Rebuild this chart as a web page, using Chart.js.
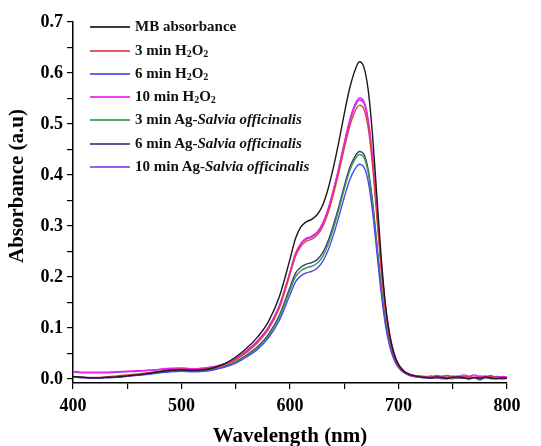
<!DOCTYPE html>
<html><head><meta charset="utf-8">
<script src="https://cdn.jsdelivr.net/npm/chart.js@4.4.1/dist/chart.umd.min.js"></script>
<style>
html,body{margin:0;padding:0;background:#fff;}
#wrap{position:relative;width:541px;height:446px;}
#legend{position:absolute;left:90px;top:0;width:260px;height:180px;font:bold 15px "Liberation Serif",serif;color:#111;}
.row{position:absolute;left:0;height:24px;white-space:nowrap;}
.sw{position:absolute;left:0;top:12px;width:40px;height:2px;opacity:0.85;}
.tx{position:absolute;left:45px;top:0;line-height:24px;}
sub{font-size:10px;vertical-align:-2px;line-height:0;}
</style></head><body>
<div id="wrap"><canvas id="c" width="541" height="446"></canvas><div id="legend"></div></div>
<script>
const wavelengths = [400,410,420,430,440,450,460,470,480,490,500,510,520,530,540,
  550,560,570,580,590,600,
  605,610,615,620,625,630,635,640,645,650,655,660,
  664,668,672,676,680,684,688,692,696,700,
  705,710,715,720,
  725,730,735,740,745,750,755,760,765,770,775,780,785,790,795,800];

const seriesLabels = ["MB absorbance","3 min H2O2","6 min H2O2","10 min H2O2",
  "3 min Ag-Salvia officinalis","6 min Ag-Salvia officinalis","10 min Ag-Salvia officinalis"];
const seriesColors = ["#1a1a1a","#e03c3c","#4a4ae8","#f020f0","#3a9a4a","#3c3c78","#9040e0"];

const mbAbs = [0.005,0.003,0.002,0.003,0.004,0.006,0.008,0.011,0.014,0.017,0.018,0.017,0.018,0.022,0.030,
  0.043,0.060,0.082,0.112,0.160,0.235,
  0.275,0.298,0.308,0.313,0.322,0.340,0.372,0.415,0.465,0.520,0.570,0.606,
  0.622,0.612,0.568,0.480,0.360,0.240,0.145,0.085,0.048,0.028,
  0.015,0.009,0.006,0.004,
  0.003,0.002,0.004,0.003,0.001,0.003,0.004,0.002,0.000,0.003,0.001,0.004,0.002,0.000,0.002,0.001];
const h2o2_3min = [0.004,0.003,0.003,0.004,0.006,0.008,0.010,0.012,0.015,0.018,0.019,0.018,0.019,0.022,0.028,
  0.038,0.052,0.071,0.097,0.138,0.205,
  0.240,0.260,0.270,0.274,0.282,0.298,0.325,0.362,0.405,0.452,0.495,0.525,
  0.537,0.530,0.494,0.420,0.318,0.215,0.132,0.078,0.045,0.026,
  0.014,0.008,0.005,0.004,
  0.003,0.005,0.002,0.004,0.006,0.003,0.002,0.005,0.003,0.001,0.004,0.002,0.005,0.003,0.000,0.002];
const h2o2_6min = [0.004,0.002,0.001,0.002,0.003,0.005,0.007,0.009,0.012,0.014,0.015,0.014,0.015,0.018,0.023,
  0.031,0.043,0.058,0.080,0.114,0.165,
  0.190,0.202,0.208,0.211,0.217,0.230,0.252,0.282,0.318,0.356,0.390,0.412,
  0.421,0.416,0.388,0.330,0.250,0.170,0.105,0.063,0.037,0.022,
  0.012,0.007,0.004,0.003,
  0.002,0.001,0.003,0.000,0.002,0.004,0.001,0.003,0.000,0.002,-0.002,0.003,0.001,0.004,0.000,0.001];
const h2o2_10min = [0.015,0.013,0.013,0.013,0.014,0.015,0.016,0.017,0.019,0.021,0.021,0.020,0.021,0.024,0.030,
  0.040,0.055,0.075,0.101,0.143,0.210,
  0.246,0.266,0.276,0.280,0.288,0.305,0.333,0.371,0.415,0.463,0.508,0.539,
  0.551,0.545,0.510,0.437,0.334,0.228,0.142,0.085,0.050,0.029,
  0.016,0.010,0.007,0.006,
  0.005,0.004,0.007,0.005,0.003,0.006,0.004,0.008,0.005,0.003,0.006,0.004,0.007,0.003,0.005,0.004];
const ag_3min = [0.005,0.003,0.002,0.003,0.004,0.006,0.008,0.010,0.013,0.015,0.016,0.015,0.016,0.019,0.024,
  0.033,0.045,0.061,0.084,0.120,0.174,
  0.200,0.212,0.218,0.221,0.227,0.240,0.263,0.295,0.332,0.372,0.408,0.431,
  0.440,0.435,0.405,0.344,0.261,0.178,0.110,0.066,0.039,0.023,
  0.013,0.007,0.005,0.003,
  0.002,0.004,0.001,0.003,0.002,0.000,0.003,0.001,0.004,0.002,0.001,0.003,0.000,0.002,0.003,0.001];
const ag_6min = [0.005,0.003,0.002,0.003,0.004,0.006,0.008,0.010,0.013,0.015,0.016,0.016,0.016,0.019,0.025,
  0.034,0.047,0.063,0.087,0.124,0.180,
  0.207,0.219,0.225,0.228,0.234,0.247,0.270,0.302,0.338,0.378,0.414,0.437,
  0.446,0.441,0.411,0.350,0.266,0.182,0.113,0.068,0.040,0.024,
  0.013,0.008,0.005,0.004,
  0.003,0.001,0.004,0.002,0.000,0.003,0.002,0.005,0.001,0.003,0.000,0.002,0.004,0.001,0.003,0.002];
const ag_10min = [0.014,0.012,0.012,0.012,0.013,0.014,0.015,0.017,0.018,0.020,0.021,0.020,0.021,0.024,0.030,
  0.040,0.055,0.074,0.100,0.142,0.209,
  0.244,0.264,0.274,0.278,0.286,0.303,0.331,0.369,0.412,0.460,0.504,0.535,
  0.547,0.541,0.506,0.433,0.331,0.226,0.140,0.084,0.049,0.028,
  0.015,0.009,0.006,0.005,
  0.004,0.006,0.003,0.005,0.007,0.004,0.006,0.003,0.005,0.008,0.004,0.006,0.003,0.005,0.004,0.003];

const xMajorTicks = [400,500,600,700,800];
const xAllTicks = [400,450,500,550,600,650,700,750,800];
const yMajorTicks = [0.0,0.1,0.2,0.3,0.4,0.5,0.6,0.7];
const yAllTicks = [0.0,0.05,0.1,0.15,0.2,0.25,0.3,0.35,0.4,0.45,0.5,0.55,0.6,0.65,0.7];
const xTitle = "Wavelength (nm)";
const yTitle = "Absorbance (a.u)";

const seriesValues = [mbAbs,h2o2_3min,h2o2_6min,h2o2_10min,ag_3min,ag_6min,ag_10min];

const FONT = "'Liberation Serif','Times New Roman',serif";

const datasets = seriesValues.map((vals,i)=>({
  label: seriesLabels[i],
  data: wavelengths.map((w,j)=>({x:w,y:vals[j]})),
  borderColor: seriesColors[i],
  backgroundColor: seriesColors[i],
  borderWidth: 1.4,
  pointRadius: 0,
  cubicInterpolationMode: 'monotone',
  fill: false
}));

const isIn = (arr,v)=>arr.some(a=>Math.abs(a-v)<1e-9);

const yTitlePlugin = {
  id: 'yTitlePlugin',
  afterDraw(chart) {
    const ctx = chart.ctx;
    ctx.save();
    ctx.translate(18, 186);
    ctx.rotate(-Math.PI/2);
    ctx.font = "bold 21px " + FONT;
    ctx.fillStyle = '#000';
    ctx.textAlign = 'center';
    ctx.textBaseline = 'middle';
    ctx.fillText(yTitle, 0, 0);
    ctx.restore();
  }
};

new Chart(document.getElementById('c'), {
  type: 'line',
  data: { datasets },
  plugins: [yTitlePlugin],
  options: {
    responsive: false,
    devicePixelRatio: 1,
    animation: false,
    layout: { padding: { top: 22, right: 34, left: 0, bottom: 0 } },
    plugins: { legend: { display: false }, tooltip: { enabled: false } },
    scales: {
      x: {
        type: 'linear', min: 400, max: 800,
        afterBuildTicks: s => { s.ticks = xAllTicks.map(v=>({value:v})); },
        afterFit: s => { s.height = 63; },
        ticks: { autoSkip: false, maxRotation: 0, color: '#000', padding: 7,
          font: { family: FONT, size: 18, weight: 'bold' },
          callback: v => isIn(xMajorTicks,v) ? String(v) : '' },
        grid: { drawOnChartArea: false, drawTicks: true, tickLength: 6, color: '#000', lineWidth: 1.2 },
        border: { color: '#000', width: 1.5 },
        title: { display: true, text: xTitle, color: '#000', padding: { top: 8, bottom: 0 },
          font: { family: FONT, size: 21, weight: 'bold', lineHeight: 0.9 } }
      },
      y: {
        type: 'linear', min: -0.008, max: 0.7,
        afterBuildTicks: s => { s.ticks = yAllTicks.map(v=>({value:v})); },
        afterFit: s => { s.width = 73; },
        ticks: { autoSkip: false, color: '#000', padding: 4,
          font: { family: FONT, size: 18, weight: 'bold' },
          callback: v => isIn(yMajorTicks,v) ? v.toFixed(1) : '' },
        grid: { drawOnChartArea: false, drawTicks: true, tickLength: 6, color: '#000', lineWidth: 1.2 },
        border: { color: '#000', width: 1.5 }
      }
    }
  }
});

const rowTops = [14, 38, 61, 84, 107, 131, 154];
const fmt = s => s.replace(/H2O2/g,'H<sub>2</sub>O<sub>2</sub>').replace(/Salvia officinalis/,'<i>Salvia officinalis</i>');
document.getElementById('legend').innerHTML = seriesLabels.map((l,i)=>
  `<div class="row" style="top:${rowTops[i]}px"><span class="sw" style="background:${seriesColors[i]}"></span><span class="tx">${fmt(l)}</span></div>`).join('');
</script>
</body></html>
